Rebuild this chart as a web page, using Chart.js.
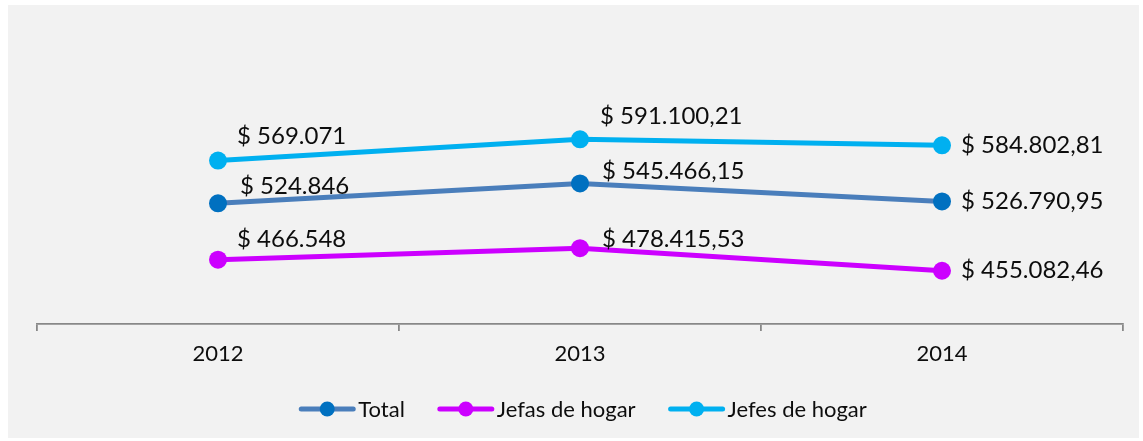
<!DOCTYPE html>
<html>
<head>
<meta charset="utf-8">
<script src="https://cdn.jsdelivr.net/npm/chart.js@4.4.1/dist/chart.umd.min.js"></script>
<style>
  html, body { margin: 0; padding: 0; background: #ffffff; }
  #wrap { width: 1143px; height: 441px; position: relative; }
  canvas { display: block; }
</style>
</head>
<body>
<div id="wrap"><canvas id="c" width="1143" height="441"></canvas></div>
<script>
// ---- Data ----
const categories = ["2012", "2013", "2014"];
const seriesNames = ["Total", "Jefas de hogar", "Jefes de hogar"];
const totalValues = [524846, 545466.15, 526790.95];
const jefasValues = [466548, 478415.53, 455082.46];
const jefesValues = [569071, 591100.21, 584802.81];
const totalLabels = ["$ 524.846", "$ 545.466,15", "$ 526.790,95"];
const jefasLabels = ["$ 466.548", "$ 478.415,53", "$ 455.082,46"];
const jefesLabels = ["$ 569.071", "$ 591.100,21", "$ 584.802,81"];

// ---- Styles ----
const FONT = "Lato, 'Open Sans', sans-serif";
const lineColors = ["#4A7EBB", "#CC00FF", "#00B0F0"];
const markerColors = ["#0070C0", "#CC00FF", "#00B0F0"];
// label offsets (dx, dy) relative to each point, per series
const labelOffsets = [
  [[22, -17], [22, -12], [19, 0]],
  [[19, -20], [22, -9], [19, 0]],
  [[19, -24], [20, -23], [19, 0]]
];

const bgPlugin = {
  id: 'bg',
  beforeDraw(chart) {
    const ctx = chart.ctx;
    ctx.save();
    ctx.fillStyle = '#ffffff';
    ctx.fillRect(0, 0, chart.width, chart.height);
    ctx.fillStyle = '#F2F2F2';
    ctx.fillRect(8, 5, 1131, 433);
    ctx.restore();
  }
};

const labelPlugin = {
  id: 'dlabels',
  afterDatasetsDraw(chart) {
    const ctx = chart.ctx;
    ctx.save();
    ctx.font = "24px " + FONT;
    ctx.fillStyle = '#0D0D0D';
    ctx.textAlign = 'left';
    ctx.textBaseline = 'middle';
    chart.data.datasets.forEach((ds, di) => {
      const meta = chart.getDatasetMeta(di);
      meta.data.forEach((pt, i) => {
        const off = labelOffsets[di][i];
        ctx.fillText(ds.valueLabels[i], pt.x + off[0], pt.y + off[1]);
      });
    });
    ctx.restore();
  }
};

const legendPlugin = {
  id: 'customLegend',
  afterDraw(chart) {
    const ctx = chart.ctx;
    ctx.save();
    ctx.font = "22px " + FONT;
    ctx.textBaseline = 'middle';
    ctx.textAlign = 'left';
    const lineLen = 56, gapText = 3, itemGap = 33;
    const widths = chart.data.datasets.map(ds => lineLen + gapText + ctx.measureText(ds.label).width);
    const total = widths.reduce((a, b) => a + b, 0) + itemGap * (widths.length - 1);
    let x = 583 - total / 2;
    const y = 409;
    chart.data.datasets.forEach((ds, i) => {
      ctx.strokeStyle = ds.borderColor;
      ctx.lineWidth = 5;
      ctx.lineCap = 'round';
      ctx.beginPath();
      ctx.moveTo(x + 2, y);
      ctx.lineTo(x + lineLen - 2, y);
      ctx.stroke();
      ctx.fillStyle = ds.pointBackgroundColor;
      ctx.beginPath();
      ctx.arc(x + lineLen / 2, y, 7.5, 0, Math.PI * 2);
      ctx.fill();
      ctx.fillStyle = '#0D0D0D';
      ctx.fillText(ds.label, x + lineLen + gapText, y + 1);
      x += widths[i] + itemGap;
    });
    ctx.restore();
  }
};

function makeDataset(name, values, labels, idx) {
  return {
    label: name,
    data: values,
    valueLabels: labels,
    borderColor: lineColors[idx],
    backgroundColor: lineColors[idx],
    pointBackgroundColor: markerColors[idx],
    pointBorderColor: markerColors[idx],
    pointRadius: 9,
    pointBorderWidth: 0,
    borderWidth: 5,
    tension: 0,
    fill: false
  };
}

new Chart(document.getElementById('c'), {
  type: 'line',
  data: {
    labels: categories,
    datasets: [
      makeDataset(seriesNames[0], totalValues, totalLabels, 0),
      makeDataset(seriesNames[1], jefasValues, jefasLabels, 1),
      makeDataset(seriesNames[2], jefesValues, jefesLabels, 2)
    ]
  },
  options: {
    responsive: false,
    animation: false,
    devicePixelRatio: 1,
    layout: { padding: { left: 37, right: 20, top: 34, bottom: 0 } },
    plugins: {
      legend: { display: false },
      tooltip: { enabled: false },
      title: { display: false }
    },
    scales: {
      y: { display: false, min: 400000, max: 700000 },
      x: {
        offset: true,
        grid: {
          offset: true,
          drawOnChartArea: false,
          drawTicks: true,
          tickLength: 7,
          color: '#888888',
          lineWidth: 1.8
        },
        border: { color: '#888888', width: 1.8 },
        ticks: {
          font: { family: FONT, size: 22 },
          color: '#0D0D0D',
          padding: 10
        },
        afterFit(scale) { scale.height = 441 - 324; }
      }
    }
  },
  plugins: [bgPlugin, labelPlugin, legendPlugin]
});
</script>
</body>
</html>
